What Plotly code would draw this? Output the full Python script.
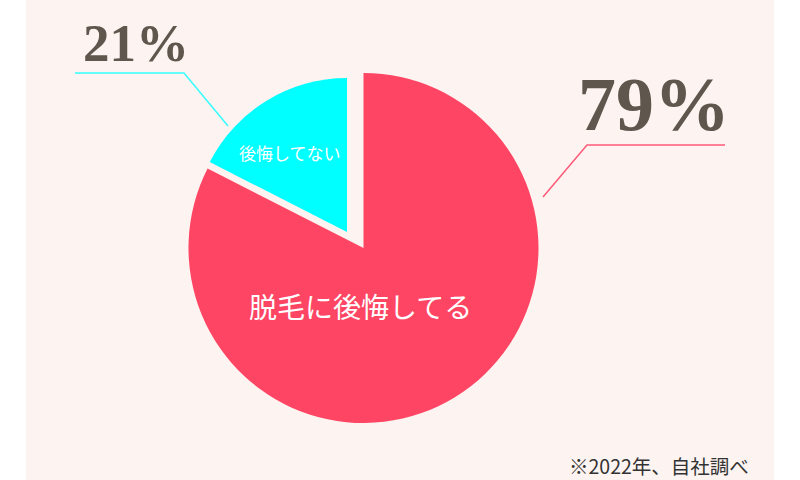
import plotly.graph_objects as go

# data (slice shares as drawn in the picture, labels as printed)
categories = ["脱毛に後悔してる", "後悔してない"]
shares = [82.5, 17.5]
pct_labels = ["79%", "21%"]
footnote = "※2022年、自社調べ"

RED = "#ff4564"
CYAN = "#00ffff"
PANEL = "#fdf4f1"
TXT = "#5f574d"

W, H = 800, 480

def dom(cx, cy, r):
    return dict(x=[(cx - r) / W, (cx + r) / W], y=[(H - cy - r) / H, (H - cy + r) / H])

fig = go.Figure()
# red slice (full radius)
fig.add_trace(go.Pie(
    labels=categories, values=shares, sort=False, direction="clockwise", rotation=0,
    marker=dict(colors=[RED, "rgba(0,0,0,0)"], line=dict(width=0)),
    textinfo="none", hoverinfo="label+value", showlegend=False,
    domain=dom(363.5, 248, 175),
))
# cyan slice (pulled out, smaller)
fig.add_trace(go.Pie(
    labels=categories, values=shares, sort=False, direction="clockwise", rotation=0,
    marker=dict(colors=["rgba(0,0,0,0)", CYAN], line=dict(width=0)),
    textinfo="none", hoverinfo="label+value", showlegend=False,
    domain=dom(347, 232, 154),
))

shapes = [
    dict(type="rect", xref="paper", yref="paper", x0=26 / W, x1=774 / W, y0=0, y1=1,
         fillcolor=PANEL, line=dict(width=0), layer="below"),
    # leader lines
    dict(type="path", xref="paper", yref="paper",
         path=f"M {75/W} {1-73/H} L {184/W} {1-73/H} L {228/W} {1-126/H}",
         line=dict(color="#33ffff", width=1.5)),
    dict(type="path", xref="paper", yref="paper",
         path=f"M {725/W} {1-145/H} L {587/W} {1-145/H} L {543/W} {1-197/H}",
         line=dict(color="#ff5a78", width=1.5)),
]

def ann(text, x, y, size, family, color, xanchor="center", weight="normal"):
    return dict(text=text, x=x / W, y=1 - y / H, xref="paper", yref="paper",
                xanchor=xanchor, yanchor="middle", showarrow=False,
                font=dict(family=family, size=size, color=color, weight=weight))

annotations = [
    ann(categories[0], 360, 306, 28, "Noto Sans CJK JP", "white"),
    ann(categories[1], 290, 152, 17, "Noto Sans CJK JP", "white"),
    ann(pct_labels[0], 654, 104, 76, "Liberation Serif", TXT, weight="bold"),
    ann(pct_labels[1], 136, 43, 53, "Liberation Serif", TXT, weight="bold"),
    ann(footnote, 751, 465, 19.5, "Noto Sans CJK JP", "#333333", xanchor="right"),
]

fig.update_layout(
    width=W, height=H, margin=dict(l=0, r=0, t=0, b=0),
    paper_bgcolor="white", plot_bgcolor="white",
    shapes=shapes, annotations=annotations,
)
fig.write_html("out.html", config={"displayModeBar": False})

with open("out.html", encoding="utf-8") as f:
    html = f.read()
html = html.replace("<head>", "<head><style>html,body{margin:0;padding:0;}</style>", 1)
with open("out.html", "w", encoding="utf-8") as f:
    f.write(html)
